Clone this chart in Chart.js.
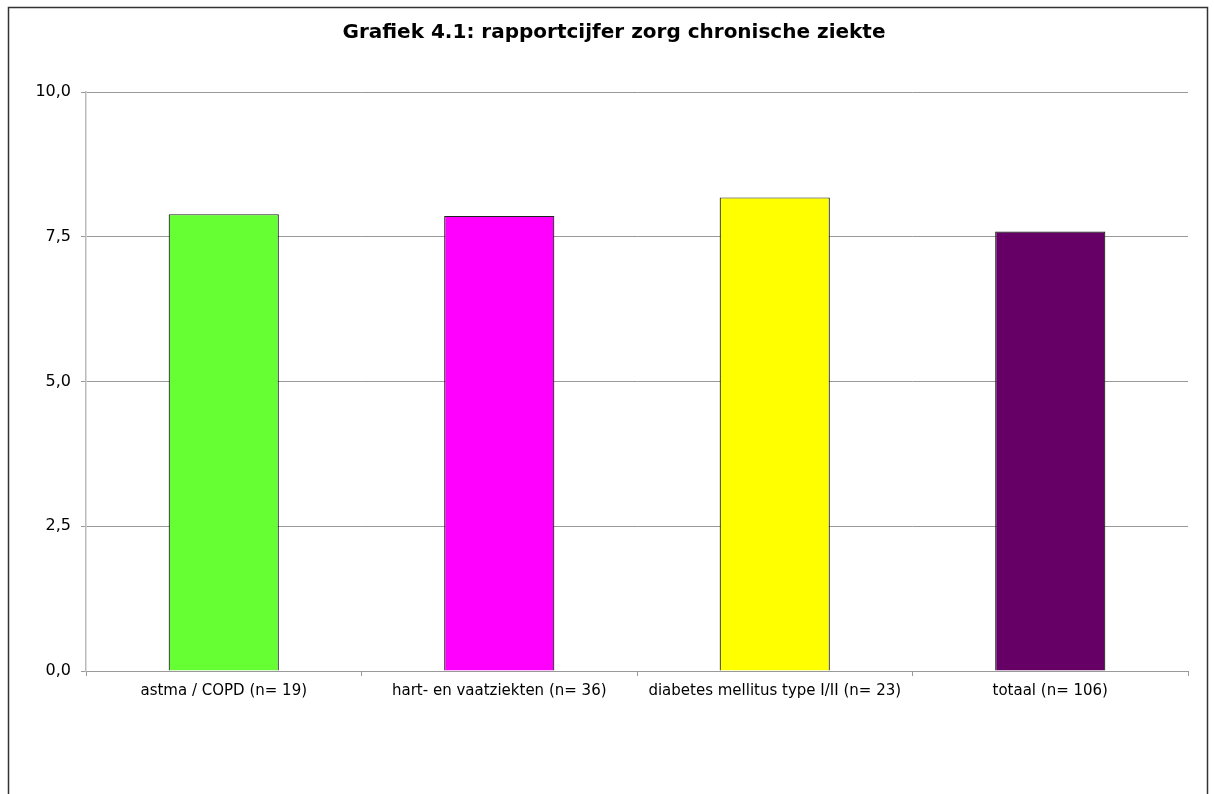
<!DOCTYPE html>
<html lang="nl">
<head>
<meta charset="utf-8">
<title>Grafiek 4.1</title>
<script src="https://cdn.jsdelivr.net/npm/chart.js@4"></script>
<style>
  body { margin: 0; background: #fff; }
  #wrap { width: 1214px; height: 794px; }
</style>
</head>
<body>
<div id="wrap"><canvas id="chartCanvas" width="1214" height="794"></canvas></div>
<script>
  const categories = ['astma / COPD (n= 19)', 'hart- en vaatziekten (n= 36)', 'diabetes mellitus type I/II (n= 23)', 'totaal (n= 106)'];
  const scores = [7.89, 7.86, 8.18, 7.59];
  const barColors = ['#66ff33', '#ff00ff', '#ffff00', '#660066'];
  const yTicks = [0, 2.5, 5, 7.5, 10];

  const frame = {
    id: 'frame',
    beforeDraw(chart) {
      const c = chart.ctx;
      c.save();
      c.fillStyle = '#fff';
      c.fillRect(0, 0, chart.width, chart.height);
      c.strokeStyle = '#333';
      c.lineWidth = 1.5;
      c.strokeRect(8.5, 7.5, 1199, 800);
      c.restore();
    }
  };

  const ctx = document.getElementById('chartCanvas');
  new Chart(ctx, {
    type: 'bar',
    data: {
      labels: categories,
      datasets: [{
        data: scores,
        backgroundColor: barColors,
        borderColor: '#222',
        borderWidth: 1.2,
        barPercentage: 0.4,
        categoryPercentage: 1
      }]
    },
    options: {
      responsive: false,
      animation: false,
      layout: { padding: { left: 14, right: 0, top: 0, bottom: 0 } },
      plugins: {
        legend: { display: false },
        tooltip: { enabled: false },
        title: {
          display: true,
          text: 'Grafiek 4.1: rapportcijfer zorg chronische ziekte',
          color: '#000',
          font: { family: 'DejaVu Sans', size: 20, weight: 'bold' },
          padding: { top: 21, bottom: 47 }
        }
      },
      scales: {
        x: {
          grid: { drawOnChartArea: false, color: '#999', tickLength: 5, offset: true },
          border: { color: '#999' },
          ticks: { color: '#000', font: { family: 'DejaVu Sans', size: 15 }, padding: 6, maxRotation: 0 },
          afterFit(scale) { scale.height = 123; }
        },
        y: {
          min: 0,
          max: 10,
          afterBuildTicks(scale) { scale.ticks = yTicks.map(v => ({ value: v })); },
          grid: { color: '#999', tickLength: 5 },
          border: { color: '#bbb', width: 1.5 },
          ticks: {
            color: '#000',
            font: { family: 'DejaVu Sans', size: 16 },
            padding: 10,
            callback: v => v.toFixed(1).replace('.', ',')
          },
          afterFit(scale) { scale.width = 72; }
        },
        spacer: {
          position: 'right',
          min: 0,
          max: 10,
          grid: { display: false },
          border: { display: false },
          ticks: { display: false },
          afterFit(scale) { scale.width = 26; }
        }
      }
    },
    plugins: [frame]
  });
</script>
</body>
</html>
